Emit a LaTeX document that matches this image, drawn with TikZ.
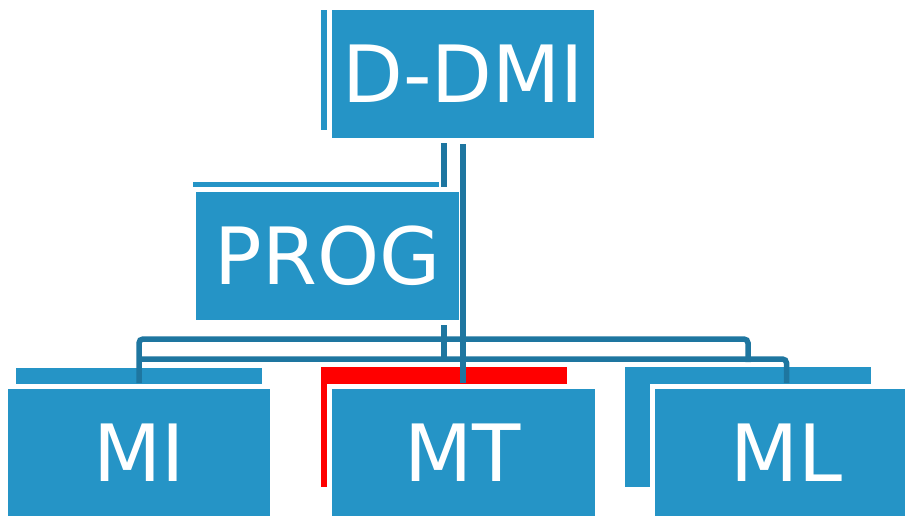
\documentclass[tikz,border=0pt]{standalone}
\usepackage{fontspec}
\setmainfont{DejaVu Sans}
\definecolor{boxblue}{HTML}{2594C6}
\definecolor{linkblue}{HTML}{1E76A0}
\definecolor{backred}{HTML}{FF0000}
\begin{document}
\begin{tikzpicture}[x=1pt,y=-1pt,
  backbox/.style={fill=#1, draw=none, inner sep=0pt, outer sep=0pt, minimum width=246pt, minimum height=120pt},
  backbox/.default=boxblue,
  frontbox/.style={fill=boxblue, preaction={draw=white, line width=10pt}, inner sep=0pt, outer sep=0pt,
    minimum width=262pt, minimum height=128pt, text=white, font=\fontsize{79}{79}\selectfont},
  link/.style={draw=linkblue, line width=5.5pt, rounded corners=4pt}]
\useasboundingbox (0,0) rectangle (905,515);
\clip (0,0) rectangle (905,515);
\fill[white] (0,0) rectangle (905,515);
% back layer
\node[backbox] (ddmiB) at (444,70) {};
\node[backbox, minimum height=118pt] (progB) at (316,241) {};
\node[backbox] (miB) at (139,428) {};
\node[backbox=backred] (mtB) at (444,427) {};
\node[backbox] (mlB) at (748,427) {};
% back connectors
\coordinate (uR) at (748,339);
\draw[link] (ddmiB.south) -- ([yshift=5pt]mtB.north);
\draw[link] ([yshift=-15pt]miB.north) |- (uR) -- ([yshift=5pt]mlB.north);
% front layer
\node[frontbox] (ddmi) at (463,74) {D-DMI};
\node[frontbox, minimum width=263pt] (prog) at (327.5,256) {PROG};
\node[frontbox] (mi) at (139,453) {MI};
\node[frontbox, minimum width=263pt] (mt) at (463,453) {MT};
\node[frontbox, minimum width=263pt] (ml) at (786.5,453) {ML};
% front connectors
\coordinate (lL) at (140,359);
\draw[link] ([yshift=-6pt]ddmi.south) -- ([yshift=6pt]mt.north);
\draw[link] (lL) -| ([yshift=6pt]ml.north);
\end{tikzpicture}
\end{document}
